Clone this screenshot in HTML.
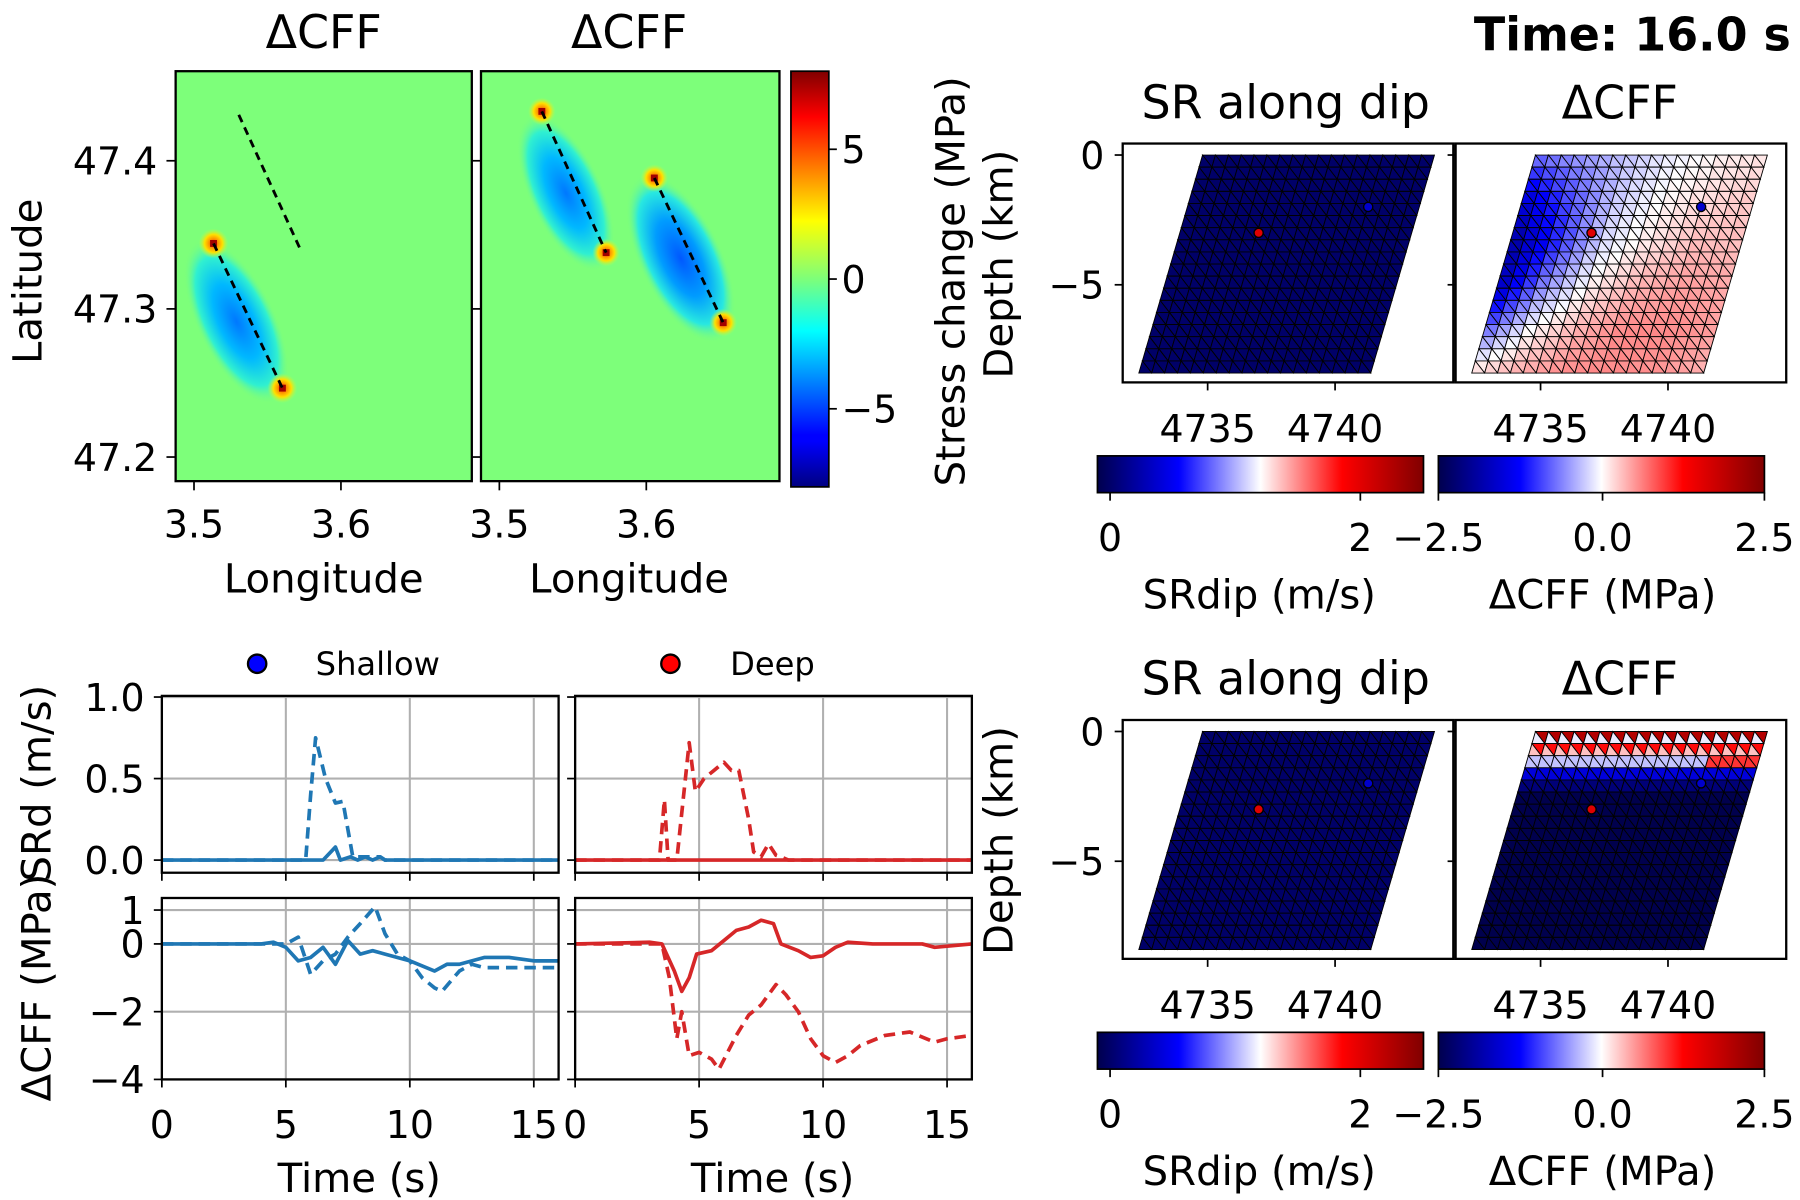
<!DOCTYPE html>
<html><head><meta charset="utf-8"><style>
html,body{margin:0;padding:0;background:#fff;}
svg{display:block;font-family:"DejaVu Sans","Liberation Sans",sans-serif;}
</style></head><body>
<svg id="fig" width="1800" height="1200" viewBox="0 0 1568 1045" preserveAspectRatio="none" xmlns="http://www.w3.org/2000/svg">
<defs>
<linearGradient id="jetV" x1="0" y1="1" x2="0" y2="0">
<stop offset="0" stop-color="#000080"/><stop offset="0.11" stop-color="#0000ff"/><stop offset="0.125" stop-color="#0000ff"/><stop offset="0.375" stop-color="#00ffff"/><stop offset="0.5" stop-color="#7dff7a"/><stop offset="0.64" stop-color="#ffff00"/><stop offset="0.89" stop-color="#ff0000"/><stop offset="1" stop-color="#800000"/>
</linearGradient>
<linearGradient id="seisH" x1="0" y1="0" x2="1" y2="0">
<stop offset="0" stop-color="#00004d"/><stop offset="0.25" stop-color="#0000ff"/><stop offset="0.5" stop-color="#ffffff"/><stop offset="0.75" stop-color="#ff0000"/><stop offset="1" stop-color="#800000"/>
</linearGradient>
<radialGradient id="lobe"><stop offset="0" stop-color="#0078ff"/><stop offset="0.45" stop-color="#00b8ff"/><stop offset="0.78" stop-color="#30f0d0"/><stop offset="1" stop-color="#7dff7a" stop-opacity="0"/></radialGradient>
<radialGradient id="lobeD"><stop offset="0" stop-color="#0058ff"/><stop offset="0.45" stop-color="#009cff"/><stop offset="0.78" stop-color="#28e8e0"/><stop offset="1" stop-color="#7dff7a" stop-opacity="0"/></radialGradient>
<radialGradient id="tip"><stop offset="0" stop-color="#ff2000"/><stop offset="0.3" stop-color="#ff9000"/><stop offset="0.6" stop-color="#ffe000"/><stop offset="1" stop-color="#b0ff50" stop-opacity="0"/></radialGradient>
<clipPath id="m1c"><rect x="153" y="62" width="258" height="357"/></clipPath>
<clipPath id="m2c"><rect x="419" y="62" width="260" height="357"/></clipPath>
</defs>
<g id="root"></g>
</svg>
<script>
// ---------- data ----------
const srTime = [0,5.8,6.0,6.2,6.6,7.0,7.3,7.7,8.0,8.3,8.6,8.8,9.0,16];
const srShallowDash = [0,0,0.4,0.75,0.5,0.35,0.36,0.02,0.02,0.02,0.02,0.02,0,0];
const srShallowSolidT = [0,6.5,7.0,7.2,7.6,7.9,8.2,8.5,8.8,9.0,16];
const srShallowSolid = [0,0,0.08,0,0.02,0,0.02,0,0.02,0,0];
const srDeepT = [0,3.4,3.6,3.75,4.1,4.6,4.85,5.2,5.6,6.0,6.3,6.6,7.0,7.2,7.5,7.8,8.1,8.3,8.6,16];
const srDeepDash = [0,0,0.37,0,0,0.72,0.42,0.5,0.55,0.6,0.55,0.55,0.25,0.05,0.02,0.1,0.03,0.02,0,0];
const srDeepSolidT = [0,16];
const srDeepSolid = [0,0];
const cffShT = [0,4,4.5,5,5.5,6,6.5,7,7.5,8,8.5,9,10,11,11.5,12,13,14,15,16];
const cffShSolid = [0,0,0.05,-0.1,-0.5,-0.4,-0.1,-0.6,0.1,-0.3,-0.2,-0.3,-0.5,-0.8,-0.6,-0.6,-0.4,-0.4,-0.5,-0.5];
const cffShDashT = [0,5,5.5,6,6.5,7,7.5,8,8.6,9,9.5,10,10.5,11,11.3,12,12.5,13,14,16];
const cffShDash = [0,0,0.2,-0.9,-0.5,-0.3,0.2,0.6,1.1,0.3,-0.3,-0.5,-1.0,-1.3,-1.4,-0.8,-0.6,-0.7,-0.7,-0.7];
const cffDpT = [0,3,3.5,4.0,4.3,4.6,4.9,5.5,6,6.5,7,7.5,8,8.3,9,9.5,10,10.5,11,12,13,14,14.5,16];
const cffDpSolid = [0,0.05,0,-0.8,-1.4,-1.0,-0.3,-0.2,0.1,0.4,0.5,0.7,0.6,0,-0.2,-0.4,-0.35,-0.1,0.05,0,0,0,-0.1,0];
const cffDpDashT = [0,3.5,3.8,4.1,4.3,4.6,5.0,5.5,5.8,6.5,7.0,7.5,8.1,8.5,9,9.5,10,10.5,11,11.5,12.5,13.5,14.5,15,16];
const cffDpDash = [0,0,-1,-2.8,-2.0,-3.3,-3.2,-3.4,-3.7,-2.7,-2.1,-1.8,-1.2,-1.5,-2.0,-2.8,-3.3,-3.5,-3.3,-3.0,-2.7,-2.6,-2.9,-2.8,-2.7];
const timeTicks = [0,5,10,15];
const srTicks = [0.0,0.5,1.0];
const cffTicks = [-4,-2,0,1];
// mesh coarse grids for dCFF (MPa)
const cffGridTop = [
 [-0.7,-0.5,-0.3,-0.1,0.05,0.1],
 [-1.6,-0.9,-0.3,0.0,0.15,0.25],
 [-2.0,-1.1,-0.2,0.1,0.3,0.3],
 [-1.8,-0.6,0.05,0.35,0.45,0.4],
 [-0.8,0.0,0.35,0.55,0.55,0.45],
 [0.2,0.4,0.55,0.55,0.5,0.35]];
const cffRowsBottom = [2.0,1.2,-0.3,-1.5,-2.2,-2.5,-2.5,-2.5,-2.5,-2.5,-2.5,-2.5,-2.5,-2.5,-2.5,-2.5,-2.5,-2.5];
const srMeshValue = [0];
const meshXTicks = [4735,4740];
const meshYTicks = [0,-5];
const jetTicks = [-5,0,5];

// ---------- helpers ----------
const NS="http://www.w3.org/2000/svg";
const root=document.getElementById('root');
const FT=33, FL=35, FH=40;
function el(tag,attrs,parent){const e=document.createElementNS(NS,tag);for(const k in attrs)e.setAttribute(k,attrs[k]);(parent||root).appendChild(e);return e;}
function txt(s,x,y,size,anchor,parent,extra){const t=el('text',Object.assign({x:x,y:y,'font-size':size,'text-anchor':anchor||'middle',fill:'#000'},extra||{}),parent);t.textContent=s;return t;}
function seismic(v,vmin,vmax){let t=(v-vmin)/(vmax-vmin);t=Math.max(0,Math.min(1,t));
 const st=[[0,0,0,77],[0.25,0,0,255],[0.5,255,255,255],[0.75,255,0,0],[1,128,0,0]];
 for(let i=0;i<4;i++){if(t<=st[i+1][0]){const f=(t-st[i][0])/(st[i+1][0]-st[i][0]);return `rgb(${[1,2,3].map(k=>Math.round(st[i][k]+f*(st[i+1][k]-st[i][k]))).join(',')})`;}}return 'rgb(128,0,0)';}

// ---------- top-left maps ----------
function mapPanel(x0,name,clip){
 const g=el('g',{'clip-path':`url(#${clip})`});
 
 
 el('rect',{x:x0,y:62,width:262,height:357,fill:'#7dff7a'},g);
 return g;
}
const lonX1=v=>169+(v-3.5)*1280, lonX2=v=>435+(v-3.5)*1280, latY=v=>140+(47.4-v)*1290;
const g1=mapPanel(153,'stress-map-1','m1c');
el('ellipse',{cx:206,cy:280,rx:78,ry:34,fill:'url(#lobe)',transform:'rotate(64 206 280)'},g1);
el('circle',{cx:186,cy:212,r:13,fill:'url(#tip)'},g1);
el('circle',{cx:246,cy:338,r:13,fill:'url(#tip)'},g1);
el('rect',{x:183,y:209,width:6,height:6,fill:'#a00000'},g1);
el('rect',{x:243,y:335,width:6,height:6,fill:'#a00000'},g1);
el('line',{x1:208,y1:100,x2:262,y2:218,stroke:'#000','stroke-width':2.5,'stroke-dasharray':'7,5'},g1);
el('line',{x1:186,y1:212,x2:246,y2:338,stroke:'#000','stroke-width':2.5,'stroke-dasharray':'7,5'},g1);
el('rect',{x:153,y:62,width:258,height:357,fill:'none',stroke:'#000','stroke-width':2});
const g2=mapPanel(419,'stress-map-2','m2c');
el('ellipse',{cx:493,cy:168,rx:74,ry:32,fill:'url(#lobe)',transform:'rotate(65 493 168)'},g2);
el('ellipse',{cx:593,cy:225,rx:80,ry:36,fill:'url(#lobeD)',transform:'rotate(64 593 225)'},g2);
[[472,97],[528,220],[570,155],[630,281]].forEach(p=>{el('circle',{cx:p[0],cy:p[1],r:12,fill:'url(#tip)'},g2);el('rect',{x:p[0]-3,y:p[1]-3,width:6,height:6,fill:'#a00000'},g2);});
el('line',{x1:472,y1:97,x2:528,y2:220,stroke:'#000','stroke-width':2.5,'stroke-dasharray':'7,5'},g2);
el('line',{x1:570,y1:155,x2:630,y2:281,stroke:'#000','stroke-width':2.5,'stroke-dasharray':'7,5'},g2);
el('rect',{x:419,y:62,width:260,height:357,fill:'none',stroke:'#000','stroke-width':2});
[47.4,47.3,47.2].forEach(v=>{const y=latY(v);el('line',{x1:145,y1:y,x2:153,y2:y,stroke:'#000','stroke-width':1.5});el('line',{x1:411,y1:y,x2:419,y2:y,stroke:'#000','stroke-width':1.5});txt(v.toFixed(1),137,y+12,FT,'end');});
[3.5,3.6].forEach(v=>{let x=lonX1(v);el('line',{x1:x,y1:419,x2:x,y2:427,stroke:'#000','stroke-width':1.5});txt(v.toFixed(1),x,468,FT);x=lonX2(v);el('line',{x1:x,y1:419,x2:x,y2:427,stroke:'#000','stroke-width':1.5});txt(v.toFixed(1),x,468,FT);});
txt('ΔCFF',282,42,FH);
txt('ΔCFF',548,42,FH);
txt('Longitude',282,516,FL);
txt('Longitude',548,516,FL);
txt('Latitude',36,245,FL,'middle',null,{transform:'rotate(-90 36 245)'});
// jet colorbar
const cbJ=el('rect',{x:689,y:62,width:33,height:362,fill:'url(#jetV)',stroke:'#000','stroke-width':1.5});


const jetY=v=>243-v*22.6;
jetTicks.forEach(v=>{const y=jetY(v);el('line',{x1:722,y1:y,x2:729,y2:y,stroke:'#000','stroke-width':1.5});txt(v<0?'−'+(-v):String(v),733,y+12,FT,'start');});
txt('Stress change (MPa)',840,245,FL,'middle',null,{transform:'rotate(-90 840 245)'});
txt('Depth (km)',882,230,FL,'middle',null,{transform:'rotate(-90 882 230)'});
txt('Depth (km)',882,732,FL,'middle',null,{transform:'rotate(-90 882 732)'});

// ---------- mesh panels ----------
const NR=18,NC=18;
function meshPanel(ax0,ay0,xAt4735,yAt0,valueFn,name){
 const g=el('g',{});
 
 
 el('rect',{x:ax0,y:ay0,width:288,height:208,fill:'#fff'},g);
 const sx=x=>xAt4735+(x-4735)*22.2, sy=d=>yAt0-d*22.6;
 const xl0=4734.8, xr0=4743.9, shift=2.5, dmax=-8.4;
 const P=(i,j)=>{const d=dmax*i/NR;const s=shift*i/NR;const x=(xl0-s)+(xr0-xl0)*j/NC;return [sx(x),sy(d)];};
 for(let i=0;i<NR;i++)for(let j=0;j<NC;j++){
  const a=P(i,j),b=P(i,j+1),c=P(i+1,j+1),d=P(i+1,j);
  const v1=valueFn(i,j,0),v2=valueFn(i,j,1);
  const t1=el('polygon',{points:[a,b,c].map(p=>p.join(',')).join(' '),fill:v1,stroke:'#000','stroke-width':0.8},g);
  
  
  const t2=el('polygon',{points:[a,c,d].map(p=>p.join(',')).join(' '),fill:v2,stroke:'#000','stroke-width':0.8},g);
  
  
 }
 el('rect',{x:ax0,y:ay0,width:288,height:208,fill:'none',stroke:'#000','stroke-width':2},g);
 el('circle',{cx:sx(4737),cy:sy(-3),r:4,fill:'#e00000',stroke:'#000','stroke-width':1.2},g);
 el('circle',{cx:sx(4741.3),cy:sy(-2),r:4,fill:'#0000cc',stroke:'#000','stroke-width':1.2},g);
 meshXTicks.forEach(v=>{const x=sx(v);el('line',{x1:x,y1:ay0+208,x2:x,y2:ay0+215,stroke:'#000','stroke-width':1.5},g);txt(String(v),x,ay0+260,FT,'middle',g);});
 return {sx,sy,g};
}
function gridVal(i,j){
 const fr=Math.min(4.999,(i+0.5)/NR*5), fc=Math.min(4.999,(j+0.5)/NC*5);
 const r=Math.floor(fr),c=Math.floor(fc),dr=fr-r,dc=fc-c;
 const G=cffGridTop;
 return G[r][c]*(1-dr)*(1-dc)+G[r][c+1]*(1-dr)*dc+G[r+1][c]*dr*(1-dc)+G[r+1][c+1]*dr*dc;
}
function cffTopFn(i,j,k){return seismic(gridVal(i,j)+(k?0.04:0),-2.5,2.5);}
function cffBotFn(i,j,k){let v=cffRowsBottom[i];if(i<=1&&k===1)v=(i===0?-0.1:0.3);if(i===2&&j>13)v=1.0;return seismic(v,-2.5,2.5);}
function srFn(){return seismic(srMeshValue[0],-0.1,2.5);}
function meshSet(yTop,tag){
 const m1=meshPanel(978,yTop-10,1052,yTop,srFn,'sr-mesh-'+tag);
 meshPanel(1268,yTop-10,1342,yTop,tag==='top'?cffTopFn:cffBotFn,'cff-mesh-'+tag);
 meshYTicks.forEach(v=>{const y=m1.sy(v);el('line',{x1:971,y1:y,x2:978,y2:y,stroke:'#000','stroke-width':1.5});el('line',{x1:1261,y1:y,x2:1268,y2:y,stroke:'#000','stroke-width':1.5});txt(v<0?'−'+(-v):String(v),962,y+12,FT,'end');});
 txt('SR along dip',1120,yTop-32,FH);
 txt('ΔCFF',1411,yTop-32,FH);
 const cy=yTop+262;
 const c1=el('rect',{x:956,y:cy,width:284,height:32,fill:'url(#seisH)',stroke:'#000','stroke-width':1.5});
 
 
 const c2=el('rect',{x:1253,y:cy,width:284,height:32,fill:'url(#seisH)',stroke:'#000','stroke-width':1.5});
 
 
 [[967,'0'],[1185,'2']].forEach(t=>{el('line',{x1:t[0],y1:cy+32,x2:t[0],y2:cy+39,stroke:'#000','stroke-width':1.5});txt(t[1],t[0],cy+83,FT);});
 [[1253,'−2.5'],[1396,'0.0'],[1537,'2.5']].forEach(t=>{el('line',{x1:t[0],y1:cy+32,x2:t[0],y2:cy+39,stroke:'#000','stroke-width':1.5});txt(t[1],t[0],cy+83,FT);});
 txt('SRdip (m/s)',1097,cy+133,FL);
 txt('ΔCFF (MPa)',1396,cy+133,FL);
}
meshSet(135,'top');
meshSet(637,'bottom');
txt('Time: 16.0 s',1560,44,FH,'end',null,{'font-weight':'bold'});

// ---------- time series ----------
const tx=(x0)=>t=>x0+t*21.6;
const srY=v=>749-v*142;
const cfY=v=>822-v*29.5;
function tsAxes(x0,yTop,h,yf,ticks,name){
 const g=el('g',{});
 
 
 const X=tx(x0);
 timeTicks.forEach(t=>el('line',{x1:X(t),y1:yTop,x2:X(t),y2:yTop+h,stroke:'#b0b0b0','stroke-width':1.8},g));
 ticks.forEach(v=>el('line',{x1:x0,y1:yf(v),x2:x0+345.6,y2:yf(v),stroke:'#b0b0b0','stroke-width':1.8},g));
 return {g,X};
}
function line(ax,ts,vs,yf,color,dash,name){
 const p=el('polyline',{points:ts.map((t,i)=>ax.X(t)+','+yf(vs[i])).join(' '),fill:'none',stroke:color,'stroke-width':3.2,'stroke-linejoin':'round','stroke-dasharray':dash?'10,6':'none'},ax.g);
 
 
}
const blue='#1f77b4',red='#d62728';
const a1=tsAxes(141,606,154,srY,srTicks,'sr-shallow-axes');
line(a1,srShallowSolidT,srShallowSolid,srY,blue,false,'sr-shallow-solid');
line(a1,srTime,srShallowDash,srY,blue,true,'sr-shallow-dashed');
const a2=tsAxes(501,606,154,srY,srTicks,'sr-deep-axes');
line(a2,srDeepSolidT,srDeepSolid,srY,red,false,'sr-deep-solid');
line(a2,srDeepT,srDeepDash,srY,red,true,'sr-deep-dashed');
const a3=tsAxes(141,782,158,cfY,cffTicks,'cff-shallow-axes');
line(a3,cffShT,cffShSolid,cfY,blue,false,'cff-shallow-solid');
line(a3,cffShDashT,cffShDash,cfY,blue,true,'cff-shallow-dashed');
const a4=tsAxes(501,782,158,cfY,cffTicks,'cff-deep-axes');
line(a4,cffDpT,cffDpSolid,cfY,red,false,'cff-deep-solid');
line(a4,cffDpDashT,cffDpDash,cfY,red,true,'cff-deep-dashed');
[[141,606,154],[501,606,154],[141,782,158],[501,782,158]].forEach(b=>{
 el('rect',{x:b[0],y:b[1],width:345.6,height:b[2],fill:'none',stroke:'#000','stroke-width':2});
 timeTicks.forEach(t=>{const x=b[0]+t*21.6;el('line',{x1:x,y1:b[1]+b[2],x2:x,y2:b[1]+b[2]+7,stroke:'#000','stroke-width':1.5});});
});
srTicks.forEach(v=>{const y=srY(v);el('line',{x1:134,y1:y,x2:141,y2:y,stroke:'#000','stroke-width':1.5});el('line',{x1:494,y1:y,x2:501,y2:y,stroke:'#000','stroke-width':1.5});txt(v.toFixed(1),126,y+12,FT,'end');});
cffTicks.forEach(v=>{const y=cfY(v);el('line',{x1:134,y1:y,x2:141,y2:y,stroke:'#000','stroke-width':1.5});el('line',{x1:494,y1:y,x2:501,y2:y,stroke:'#000','stroke-width':1.5});txt(v<0?'−'+(-v):String(v),126,y+12,FT,'end');});
timeTicks.forEach(t=>{txt(String(t),141+t*21.6,991,FT);txt(String(t),501+t*21.6,991,FT);});
txt('Time (s)',313,1038,FL);
txt('Time (s)',673,1038,FL);
txt('SRd (m/s)',44,682,FL,'middle',null,{transform:'rotate(-90 44 682)'});
txt('ΔCFF (MPa)',44,860,FL,'middle',null,{transform:'rotate(-90 44 860)'});
// legend
const lg=el('g',{});


el('circle',{cx:224,cy:578,r:8,fill:'#0000ff',stroke:'#000','stroke-width':2},lg);
txt('Shallow',275,588,28,'start',lg);
el('circle',{cx:584,cy:578,r:8,fill:'#ff0000',stroke:'#000','stroke-width':2},lg);
txt('Deep',636,588,28,'start',lg);
</script>
</body></html>
